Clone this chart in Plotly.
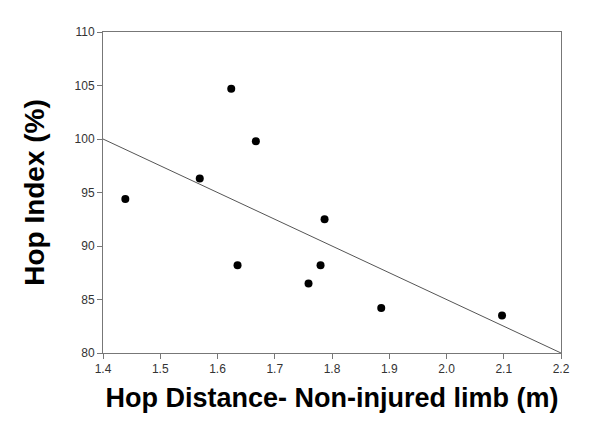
import plotly.graph_objects as go

hop_distance = [1.439, 1.569, 1.624, 1.635, 1.667, 1.759, 1.780, 1.787, 1.886, 2.097]
hop_index = [94.4, 96.3, 104.7, 88.2, 99.8, 86.5, 88.2, 92.5, 84.2, 83.5]
fit_x = [1.4, 2.2]
fit_y = [100.0, 80.0]
x_ticks = [1.4, 1.5, 1.6, 1.7, 1.8, 1.9, 2.0, 2.1, 2.2]
y_ticks = [80, 85, 90, 95, 100, 105, 110]

fig = go.Figure()
fig.add_trace(go.Scatter(x=fit_x, y=fit_y, mode="lines",
                         line=dict(color="#555555", width=1), showlegend=False))
fig.add_trace(go.Scatter(x=hop_distance, y=hop_index, mode="markers",
                         marker=dict(color="black", size=8), showlegend=False))

axis_common = dict(showgrid=False, zeroline=False, showline=True, linecolor="#777777",
                   linewidth=1, mirror=True, ticks="outside", ticklen=5, tickcolor="#777777",
                   tickfont=dict(family="Liberation Sans, Arial", size=12, color="#333333"))

fig.update_xaxes(range=[1.4, 2.2], tickvals=x_ticks,
                 ticktext=[f"{v:.1f}" for v in x_ticks],
                 title=dict(text="<b>Hop Distance- Non-injured limb (m)</b>", standoff=12,
                            font=dict(family="Liberation Sans, Arial", size=27, color="black")),
                 **axis_common)
fig.update_yaxes(range=[80, 110], tickvals=y_ticks,
                 title=dict(text="<b>Hop Index (%)</b>", standoff=21,
                            font=dict(family="Liberation Sans, Arial", size=28, color="black")),
                 **axis_common)

fig.update_layout(width=600, height=448, margin=dict(l=95, r=47, t=24, b=103, autoexpand=False),
                  plot_bgcolor="white", paper_bgcolor="white")
fig.write_html("out.html")
